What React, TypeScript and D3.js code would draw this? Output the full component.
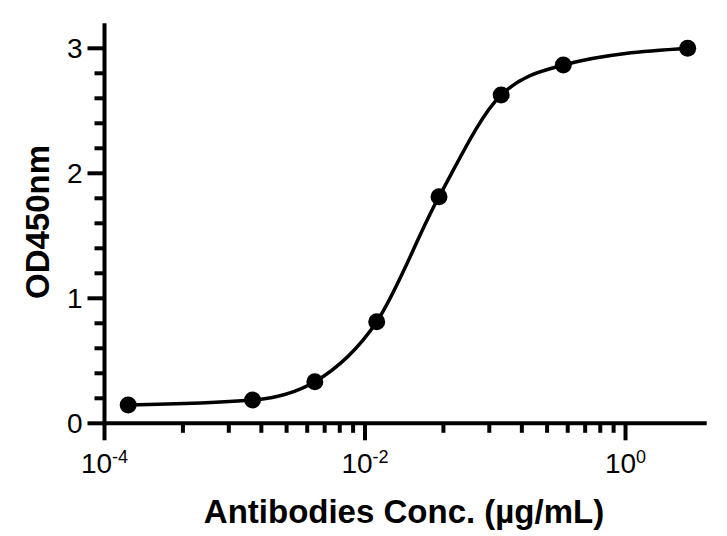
import * as d3 from 'd3';
import React, { useRef, useEffect } from 'react';

// antibody concentration (ug/mL) and OD450 readings
const concentrations = [0.000152, 0.00137, 0.00412, 0.0123, 0.037, 0.111, 0.333, 3];
const od450 = [0.146, 0.186, 0.333, 0.813, 1.813, 2.626, 2.866, 3.0];

const xMajorTicks = [1e-4, 1e-2, 1];
const xTickExponents = ['-4', '-2', '0'];
const xMinorFactors = [4, 9, 16, 25, 36, 49, 64, 81];
const yMajorTicks = [0, 1, 2, 3];
const yMinorTicks = [0.2, 0.4, 0.6, 0.8, 1.2, 1.4, 1.6, 1.8, 2.2, 2.4, 2.6, 2.8];

const xTitle = 'Antibodies Conc. (µg/mL)';
const yTitle = 'OD450nm';

function App(): any {
  const ref = useRef(null);
  const width = 727;
  const height = 536;
  const margin = { top: 23.3, right: 20.3, bottom: 112.7, left: 104.5 };
  const font = "'Liberation Sans', Arial, Helvetica, sans-serif";

  useEffect(() => {
    const svg = d3.select(ref.current);
    svg.selectAll('*').remove();

    const xScale = d3
      .scaleLog()
      .domain([1e-4, 4.2])
      .range([margin.left, width - margin.right]);

    const yScale = d3
      .scaleLinear()
      .domain([0, 3.2])
      .range([height - margin.bottom, margin.top]);

    const y0 = yScale(0);
    const x0 = xScale(1e-4);
    const axisW = 4;

    const g = svg.append('g');

    // minor ticks
    xMajorTicks.slice(0, -1).forEach((m) => {
      xMinorFactors.forEach((f) => {
        const x = xScale(m * f);
        g.append('line')
          .attr('x1', x).attr('x2', x)
          .attr('y1', y0).attr('y2', y0 + 9.5)
          .attr('stroke', '#000').attr('stroke-width', axisW);
      });
    });
    xMajorTicks.forEach((m) => {
      const x = xScale(m);
      g.append('line')
        .attr('x1', x).attr('x2', x)
        .attr('y1', y0).attr('y2', y0 + 17)
        .attr('stroke', '#000').attr('stroke-width', axisW);
    });
    yMinorTicks.forEach((v) => {
      const y = yScale(v);
      g.append('line')
        .attr('x1', x0 - 10).attr('x2', x0)
        .attr('y1', y).attr('y2', y)
        .attr('stroke', '#000').attr('stroke-width', axisW);
    });
    yMajorTicks.forEach((v) => {
      const y = yScale(v);
      g.append('line')
        .attr('x1', x0 - 17).attr('x2', x0)
        .attr('y1', y).attr('y2', y)
        .attr('stroke', '#000').attr('stroke-width', axisW);
    });

    // axis lines
    g.append('line')
      .attr('x1', x0).attr('x2', x0)
      .attr('y1', yScale(3.2)).attr('y2', y0)
      .attr('stroke', '#000').attr('stroke-width', axisW);
    g.append('line')
      .attr('x1', x0 - axisW / 2).attr('x2', xScale(4.2))
      .attr('y1', y0).attr('y2', y0)
      .attr('stroke', '#000').attr('stroke-width', axisW);

    // tick labels
    yMajorTicks.forEach((v) => {
      g.append('text')
        .attr('x', x0 - 22)
        .attr('y', yScale(v) + 10)
        .attr('text-anchor', 'end')
        .attr('font-family', font)
        .attr('font-size', 28)
        .text(String(v));
    });
    xMajorTicks.forEach((m, i) => {
      const t = g.append('text')
        .attr('x', xScale(m))
        .attr('y', y0 + 50)
        .attr('text-anchor', 'middle')
        .attr('font-family', font)
        .attr('font-size', 28);
      t.append('tspan').text('10');
      t.append('tspan')
        .attr('font-size', 18)
        .attr('dy', -10)
        .text(xTickExponents[i]);
    });

    // axis titles
    g.append('text')
      .attr('x', 404)
      .attr('y', 523)
      .attr('text-anchor', 'middle')
      .attr('font-family', font)
      .attr('font-size', 33)
      .attr('font-weight', 'bold')
      .text(xTitle);
    g.append('text')
      .attr('transform', 'translate(49,222) rotate(-90)')
      .attr('text-anchor', 'middle')
      .attr('font-family', font)
      .attr('font-size', 33)
      .attr('font-weight', 'bold')
      .text(yTitle);

    const data = concentrations.map((c, i) => ({ x: c, y: od450[i] }));

    const line = d3
      .line<any>()
      .x((d) => xScale(d.x))
      .y((d) => yScale(d.y))
      .curve(d3.curveMonotoneX);

    g.append('path')
      .datum(data)
      .attr('d', line)
      .attr('fill', 'none')
      .attr('stroke', '#000')
      .attr('stroke-width', 3.5);

    g.selectAll('circle')
      .data(data)
      .enter()
      .append('circle')
      .attr('cx', (d: any) => xScale(d.x))
      .attr('cy', (d: any) => yScale(d.y))
      .attr('r', 8.5)
      .attr('fill', '#000');
  }, []);

  return (
    <svg
      ref={ref}
      width={width}
      height={height}
      style={{ position: 'absolute', left: 0, top: 0, background: '#fff' }}
    />
  );
}

export default App;
